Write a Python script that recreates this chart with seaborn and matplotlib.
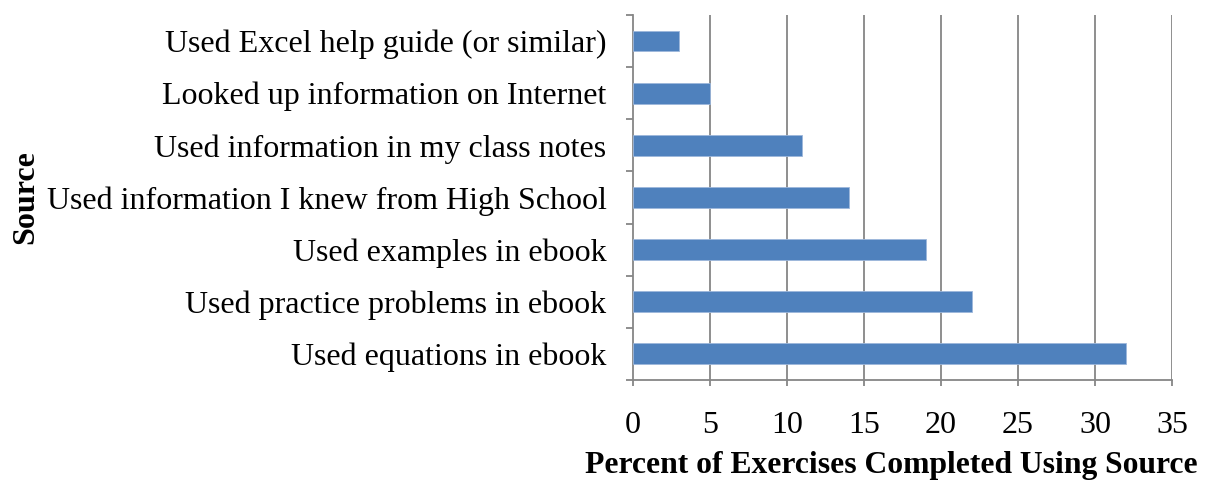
import matplotlib
matplotlib.use("Agg")
import matplotlib.pyplot as plt
from matplotlib.ticker import FixedLocator
import seaborn as sns
import pandas as pd
import numpy as np

# data, listed top to bottom as shown
sources = [
    "Used Excel help guide (or similar)",
    "Looked up information on Internet",
    "Used information in my class notes",
    "Used information I knew from High School",
    "Used examples in ebook",
    "Used practice problems in ebook",
    "Used equations in ebook",
]
percent = [3, 5, 11, 14, 19, 22, 32]
x_ticks = [0, 5, 10, 15, 20, 25, 30, 35]

df = pd.DataFrame({"Source": sources, "Percent": percent})

sns.set_theme(style="white")
plt.rcParams["font.family"] = ["Liberation Serif", "DejaVu Serif"]
plt.rcParams["text.color"] = "black"
plt.rcParams["axes.labelcolor"] = "black"

grid_col = "#868686"
bar_col = "#4F81BD"

fig = plt.figure(figsize=(12.07, 4.83), dpi=100)
ax = fig.add_axes([0.5244, 0.2133, 0.9710 - 0.5244, 0.969 - 0.2133])

sns.barplot(data=df, x="Percent", y="Source", order=sources, orient="h",
            color=bar_col, saturation=1, width=0.4, edgecolor="#9DB7DB",
            linewidth=0.6, ax=ax, zorder=3)

ax.set_xlim(0, 35)
ax.set_ylim(len(sources) - 0.5, -0.5)
ax.set_xticks(x_ticks)
ax.set_xticklabels([str(t) for t in x_ticks])

for t in x_ticks[1:]:
    ax.axvline(t, color=grid_col, linewidth=1.3, zorder=1)

for side in ["top", "right"]:
    ax.spines[side].set_visible(False)
for side in ["left", "bottom"]:
    ax.spines[side].set_color(grid_col)
    ax.spines[side].set_linewidth(1.3)

ax.yaxis.set_minor_locator(FixedLocator(np.arange(-0.5, len(sources), 1.0)))
ax.tick_params(axis="y", which="major", length=0, pad=19, labelsize=23,
               labelcolor="black")
ax.tick_params(axis="y", which="minor", left=True, length=5, width=1.3,
               color=grid_col, direction="out")
ax.tick_params(axis="x", which="major", bottom=True, length=4, width=1.3,
               color=grid_col, direction="out", pad=18, labelsize=23,
               labelcolor="black")

ax.set_xlabel("Percent of Exercises Completed Using Source", fontsize=22.8,
              fontweight="bold", color="black")
ax.xaxis.set_label_coords(0.479, -0.195, transform=ax.transAxes)
ax.set_ylabel("Source", fontsize=23, fontweight="bold", color="black")
ax.yaxis.set_label_coords(-1.10, 0.5, transform=ax.transAxes)

fig.savefig("out.png", dpi=100)
